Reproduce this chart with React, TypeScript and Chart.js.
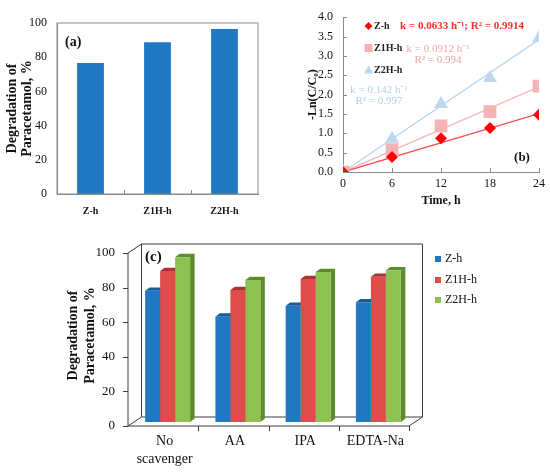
import React, { useEffect, useRef } from 'react';
import { Chart, registerables } from 'chart.js';

Chart.register(...registerables);

const SERIF = "'Liberation Serif', 'Times New Roman', serif";
Chart.defaults.font.family = SERIF;
Chart.defaults.color = '#111';

// panel (a)
const catalysts = ['Z-h', 'Z1H-h', 'Z2H-h'];
const degradationA = [76.6, 88.7, 96.5];
const degradationTicks = [0, 20, 40, 60, 80, 100];

// panel (b)
const timeH = [0, 6, 12, 18, 24];
const lnZh = [0, 0.39, 0.87, 1.14, 1.48];
const lnZ1h = [0, 0.58, 1.19, 1.56, 2.22];
const lnZ2h = [0, 0.86, 1.76, 2.43, 3.46];
const fitTime = [0, 24];
const fitZh = [0, 1.51];
const fitZ1h = [0, 2.2];
const fitZ2h = [0, 3.42];
const lnTicks = [0, 0.5, 1, 1.5, 2, 2.5, 3, 3.5, 4];

// panel (c)
const scavengers = [['No', 'scavenger'], 'AA', 'IPA', 'EDTA-Na'];
const scZh = [75.9, 60.9, 67.2, 69.2];
const scZ1h = [87.3, 76.3, 82.7, 84];
const scZ2h = [95.3, 82.1, 86.7, 87.7];

const AXIS = '#8a8a8a';
const BLUE = '#1f78c1';

const seriesB = [
  { label: 'Z-h', values: lnZh, fit: fitZh, color: '#ff0000', line: '#ff4a4a', style: 'rectRot', radius: 6 },
  { label: 'Z1H-h', values: lnZ1h, fit: fitZ1h, color: '#f4b4b4', line: '#f4b4b4', style: 'rect', radius: 9 },
  { label: 'Z2H-h', values: lnZ2h, fit: fitZ2h, color: '#bdd7ee', line: '#bdd7ee', style: 'triangle', radius: 8 },
];

const seriesC = [
  { label: 'Z-h', values: scZh, face: '#1f78c1', shade: '#175c96' },
  { label: 'Z1H-h', values: scZ1h, face: '#e04b4b', shade: '#a83333' },
  { label: 'Z2H-h', values: scZ2h, face: '#8dc152', shade: '#5f8b2f' },
];

const line = (ctx: CanvasRenderingContext2D, x1: number, y1: number, x2: number, y2: number) => {
  ctx.moveTo(x1, y1);
  ctx.lineTo(x2, y2);
};

const noGrid = { display: false, drawTicks: false };

const makeA = () => ({
  type: 'bar',
  data: {
    labels: catalysts,
    datasets: [{ data: degradationA, backgroundColor: BLUE, barPercentage: 0.4, categoryPercentage: 1 }],
  },
  options: {
    animation: false,
    responsive: true,
    maintainAspectRatio: false,
    layout: { padding: { top: 23, right: 17, left: 0, bottom: 0 } },
    plugins: { legend: { display: false }, tooltip: { enabled: false } },
    scales: {
      x: {
        grid: noGrid,
        border: { color: AXIS },
        ticks: { font: { size: 10, weight: 'bold' }, padding: 11 },
        afterFit: (s: any) => { s.height = 26; },
      },
      y: {
        min: 0,
        max: 100,
        afterBuildTicks: (s: any) => { s.ticks = degradationTicks.map((v) => ({ value: v })); },
        ticks: { font: { size: 12 }, padding: 10 },
        grid: noGrid,
        border: { color: AXIS },
        title: {
          display: true,
          text: ['Degradation of', 'Paracetamol, %'],
          font: { size: 14, weight: 'bold', lineHeight: 1.07 },
          padding: { top: 4.5, bottom: 0 },
        },
        afterFit: (s: any) => { s.width = 57; },
      },
    },
  },
  plugins: [{
    id: 'frameA',
    afterDraw(chart: any) {
      const { ctx, chartArea: a, scales: { x } } = chart;
      ctx.save();
      ctx.strokeStyle = AXIS;
      ctx.lineWidth = 1;
      ctx.strokeRect(a.left, a.top, a.width, a.height);
      ctx.beginPath();
      for (let i = 0; i < catalysts.length - 1; i++) {
        const px = Math.round((x.getPixelForValue(i) + x.getPixelForValue(i + 1)) / 2) + 0.5;
        line(ctx, px, a.bottom, px, a.bottom - 4);
      }
      ctx.stroke();
      ctx.fillStyle = '#111';
      ctx.font = `bold 14px ${SERIF}`;
      ctx.textBaseline = 'middle';
      ctx.fillText('(a)', 65, 42);
      ctx.restore();
    },
  }],
});

const makeB = () => ({
  type: 'scatter',
  data: {
    datasets: [
      ...seriesB.map((s) => ({
        label: s.label,
        data: timeH.map((t, i) => ({ x: t, y: s.values[i] })),
        showLine: false,
        pointStyle: s.style,
        pointRadius: s.radius,
        backgroundColor: s.color,
        borderColor: s.color,
        borderWidth: 0,
      })),
      ...seriesB.map((s) => ({
        label: s.label + ' fit',
        data: fitTime.map((t, i) => ({ x: t, y: s.fit[i] })),
        showLine: true,
        pointRadius: 0,
        borderColor: s.line,
        borderWidth: 1.3,
      })),
    ],
  },
  options: {
    animation: false,
    responsive: true,
    maintainAspectRatio: false,
    layout: { padding: { top: 13, right: 10, left: 0, bottom: 0 } },
    plugins: { legend: { display: false }, tooltip: { enabled: false } },
    scales: {
      x: {
        type: 'linear',
        min: 0,
        max: 24,
        afterBuildTicks: (s: any) => { s.ticks = timeH.map((v) => ({ value: v })); },
        grid: noGrid,
        border: { color: AXIS },
        ticks: { font: { size: 12 }, padding: 5 },
        title: {
          display: true,
          text: 'Time, h',
          font: { size: 12, weight: 'bold' },
          padding: { top: 0, bottom: 12 },
        },
        afterFit: (s: any) => { s.height = 48; },
      },
      y: {
        min: 0,
        max: 4,
        afterBuildTicks: (s: any) => { s.ticks = lnTicks.map((v) => ({ value: v })); },
        grid: noGrid,
        border: { color: AXIS },
        ticks: { font: { size: 12 }, padding: 10, callback: (v: any) => Number(v).toFixed(1) },
        title: {
          display: true,
          text: '-Ln(C/C\u2080)',
          font: { size: 12, weight: 'bold' },
          padding: { top: 31, bottom: 0 },
        },
        afterFit: (s: any) => { s.width = 68; },
      },
    },
  },
  plugins: [{
    id: 'notesB',
    beforeDatasetsDraw(chart: any) {
      const { ctx, chartArea: a, scales: { x, y } } = chart;
      ctx.save();
      ctx.strokeStyle = AXIS;
      ctx.lineWidth = 1;
      ctx.beginPath();
      timeH.slice(1).forEach((t) => {
        const px = Math.round(x.getPixelForValue(t)) + 0.5;
        line(ctx, px, a.bottom, px, a.bottom - 4);
      });
      lnTicks.slice(1).forEach((v) => {
        const py = Math.round(y.getPixelForValue(v)) + 0.5;
        line(ctx, a.left, py, a.left + 4, py);
      });
      ctx.stroke();
      ctx.restore();
    },
    afterDraw(chart: any) {
      const { ctx } = chart;
      ctx.save();
      ctx.textBaseline = 'middle';
      // legend
      const legendY = [26, 48, 70];
      seriesB.forEach((s, i) => {
        const cx = 93.5;
        const cy = legendY[i];
        ctx.fillStyle = s.color;
        ctx.beginPath();
        if (s.style === 'rectRot') {
          ctx.moveTo(cx, cy - 4); ctx.lineTo(cx + 4, cy); ctx.lineTo(cx, cy + 4); ctx.lineTo(cx - 4, cy);
        } else if (s.style === 'rect') {
          ctx.rect(cx - 4, cy - 4, 8, 8);
        } else {
          ctx.moveTo(cx, cy - 4.5); ctx.lineTo(cx + 4.5, cy + 3.5); ctx.lineTo(cx - 4.5, cy + 3.5);
        }
        ctx.closePath();
        ctx.fill();
        ctx.fillStyle = '#222';
        ctx.font = `bold 10px ${SERIF}`;
        ctx.textAlign = 'left';
        ctx.fillText(s.label, 99, cy);
      });
      // rate constants
      ctx.fillStyle = '#ff2a2a';
      ctx.font = `bold 11px ${SERIF}`;
      ctx.textAlign = 'left';
      ctx.fillText('k = 0.0633 h\u207B\u00B9; R\u00B2 = 0.9914', 125, 26);
      ctx.font = `11px ${SERIF}`;
      ctx.textAlign = 'center';
      ctx.fillStyle = '#eda8a8';
      ctx.fillText('k = 0.0912 h\u207B\u00B9', 163, 49);
      ctx.fillText('R\u00B2 = 0.994', 163, 60);
      ctx.fillStyle = '#b3d0ec';
      ctx.fillText('k = 0.142 h\u207B\u00B9', 104, 90);
      ctx.fillText('R\u00B2 = 0.997', 104, 101);
      ctx.fillStyle = '#111';
      ctx.font = `bold 13px ${SERIF}`;
      ctx.fillText('(b)', 247, 158);
      ctx.restore();
    },
  }],
});

// offsets of the front and back planes of the 3D frame, relative to the bar plane
const FX = -4.5;
const FY = 4;
const BX = 9;
const BY = -5;
const DX = 4.5;
const DY = -3.3;

const makeC = () => ({
  type: 'bar',
  data: {
    labels: scavengers,
    datasets: seriesC.map((s) => ({
      label: s.label,
      data: s.values,
      backgroundColor: s.face,
      barPercentage: 1,
      categoryPercentage: 0.64,
    })),
  },
  options: {
    animation: false,
    responsive: true,
    maintainAspectRatio: false,
    layout: { padding: { top: 29, right: 136.5, left: 0, bottom: 0 } },
    plugins: { legend: { display: false }, tooltip: { enabled: false } },
    scales: {
      x: {
        grid: noGrid,
        border: { display: false },
        ticks: { font: { size: 14, lineHeight: 1.25 }, padding: 11, labelOffset: -3 },
        afterFit: (s: any) => { s.height = 51; },
      },
      y: {
        min: 0,
        max: 100,
        afterBuildTicks: (s: any) => { s.ticks = degradationTicks.map((v) => ({ value: v })); },
        grid: noGrid,
        border: { display: false },
        ticks: { font: { size: 13 }, padding: 17.5, labelOffset: 4 },
        title: {
          display: true,
          text: ['Degradation of', 'Paracetamol, %'],
          font: { size: 14, weight: 'bold', lineHeight: 1.2 },
          padding: { top: 65, bottom: 0 },
        },
        afterFit: (s: any) => { s.width = 132.5; },
      },
    },
  },
  plugins: [{
    id: 'bars3d',
    beforeDatasetsDraw(chart: any) {
      const { ctx, chartArea: a, scales: { y } } = chart;
      ctx.save();
      ctx.strokeStyle = '#3a3a3a';
      ctx.lineWidth = 1;
      ctx.beginPath();
      ctx.rect(a.left + BX, a.top + BY, a.width, a.height);
      line(ctx, a.left + FX, a.top + FY, a.left + BX, a.top + BY);
      line(ctx, a.left + FX, a.top + FY, a.left + FX, a.bottom + FY);
      line(ctx, a.left + FX, a.bottom + FY, a.left + BX, a.bottom + BY);
      line(ctx, a.left + FX, a.bottom + FY, a.right + FX, a.bottom + FY);
      line(ctx, a.right + FX, a.bottom + FY, a.right + BX, a.bottom + BY);
      degradationTicks.forEach((v) => {
        const py = Math.round(y.getPixelForValue(v) + FY) + 0.5;
        line(ctx, a.left + FX - 5, py, a.left + FX, py);
      });
      for (let i = 1; i <= scavengers.length; i++) {
        const px = Math.round(a.left + (a.width * i) / scavengers.length + FX) + 0.5;
        line(ctx, px, a.bottom + FY, px, a.bottom + FY + 5);
      }
      ctx.stroke();

      seriesC.forEach((s, di) => {
        const meta = chart.getDatasetMeta(di);
        meta.data.forEach((bar: any) => {
          const { x, y: top, base, width } = bar.getProps(['x', 'y', 'base', 'width'], true);
          const l = x - width / 2;
          const r = x + width / 2;
          ctx.fillStyle = s.shade;
          ctx.beginPath();
          ctx.moveTo(l, top);
          ctx.lineTo(l + DX, top + DY);
          ctx.lineTo(r + DX, top + DY);
          ctx.lineTo(r + DX, base + DY);
          ctx.lineTo(r, base);
          ctx.lineTo(r, top);
          ctx.closePath();
          ctx.fill();
        });
      });
      ctx.restore();
    },
    afterDraw(chart: any) {
      const { ctx } = chart;
      ctx.save();
      ctx.textBaseline = 'middle';
      const legendY = [39, 60, 80];
      seriesC.forEach((s, i) => {
        ctx.fillStyle = s.face;
        ctx.fillRect(435, legendY[i] - 3, 6, 6);
        ctx.fillStyle = '#111';
        ctx.font = `12px ${SERIF}`;
        ctx.fillText(s.label, 445, legendY[i]);
      });
      ctx.font = `bold 15px ${SERIF}`;
      ctx.fillText('(c)', 145, 37);
      ctx.restore();
    },
  }],
});

const ChartBox: React.FC<{ left: number; top: number; width: number; height: number; make: () => any }> = ({ left, top, width, height, make }) => {
  const ref = useRef<HTMLCanvasElement>(null);
  useEffect(() => {
    if (!ref.current) return;
    const chart = new Chart(ref.current, make());
    return () => chart.destroy();
  }, [make]);
  return (
    <div style={{ position: 'absolute', left, top, width, height }}>
      <canvas ref={ref} />
    </div>
  );
};

export default function App() {
  useEffect(() => {
    document.body.style.margin = '0';
  }, []);
  return (
    <div style={{ position: 'relative', width: 550, height: 473, background: '#fff', overflow: 'hidden' }}>
      <ChartBox left={0} top={0} width={275} height={220} make={makeA} />
      <ChartBox left={275} top={0} width={275} height={220} make={makeB} />
      <ChartBox left={0} top={220} width={550} height={253} make={makeC} />
    </div>
  );
}
